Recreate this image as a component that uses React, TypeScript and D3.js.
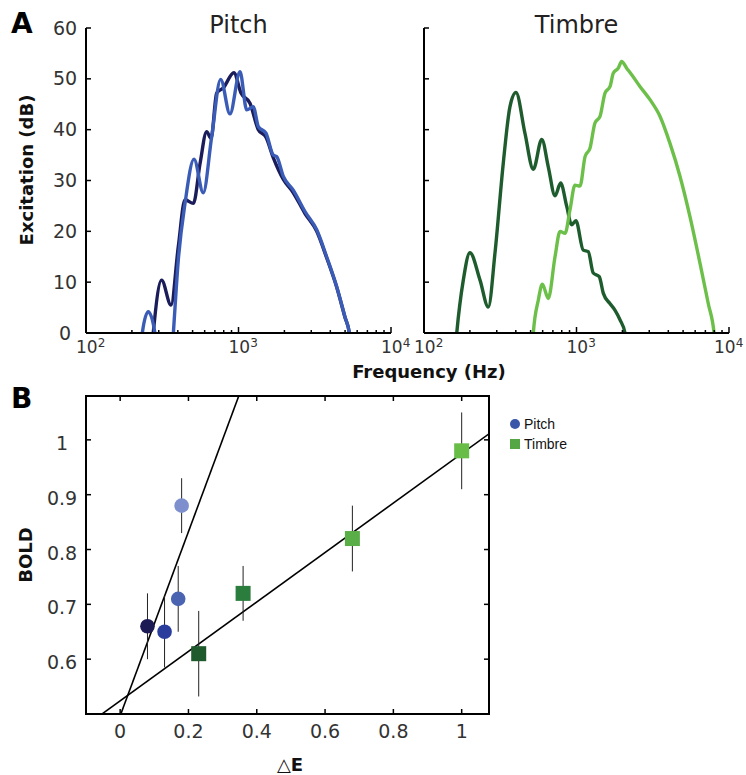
import React from "react";
import * as d3 from "d3";

// ---------- Data ----------
// Excitation patterns: [frequency Hz, excitation dB]
const pitchLow: [number, number][] = [
  [262, -8], [276, 0], [313, 10.4], [361, 5.5], [403, 17], [446, 26.2], [506, 25.5],
  [560, 33.4], [618, 39.6], [661, 38.3], [719, 47.2], [794, 48.2], [933, 51.2],
  [1038, 47.2], [1189, 45.2], [1349, 40.0], [1514, 38.5], [1690, 34.5], [1968, 30.2],
  [2286, 27.6], [2729, 23.5], [3258, 20], [3784, 14.8], [4406, 9], [4989, 3.1], [5333, 0], [5600, -6],
];
const pitchHigh: [number, number][] = [
  [222, -8], [234, 0], [256, 4.2], [283, 0], [300, -10], [355, -10], [374, 0],
  [403, 14.4], [446, 25.5], [511, 34.2], [587, 27.6], [667, 38.6], [764, 49.9],
  [879, 43.1], [1023, 51.4], [1132, 43.9], [1250, 44.5], [1349, 40.6], [1514, 39.3],
  [1690, 35], [1778, 34.7], [1968, 30.8], [2286, 28.1], [2729, 23.9], [3258, 20.3],
  [3784, 15], [4406, 9.1], [4989, 3.2], [5333, 0], [5600, -6],
];
const timbreLow: [number, number][] = [
  [156, -8], [164, 0], [181, 10.4], [200, 15.8], [233, 10.4], [264, 5.1], [292, 15.7],
  [331, 33.4], [366, 44.5], [401, 47.3], [459, 39.3], [521, 32.2], [592, 38.1],
  [653, 32.7], [723, 27], [787, 29.5], [863, 24.9], [929, 21.3], [991, 22.1],
  [1107, 16.3], [1194, 16], [1288, 11.8], [1409, 11.1], [1500, 7.8], [1656, 5.8],
  [1786, 4.5], [1928, 2.6], [2080, 0], [2200, -6],
];
const timbreHigh: [number, number][] = [
  [505, -8], [521, 0], [562, 6.5], [597, 9.6], [653, 6.8], [723, 15], [780, 20],
  [841, 19.6], [906, 24.2], [977, 29.1], [1054, 28.9], [1138, 34.7], [1227, 36.4],
  [1321, 41.3], [1426, 42.6], [1538, 47.2], [1660, 48.5], [1742, 51.1], [1879, 52.1],
  [1977, 53.4], [2133, 52.1], [2301, 50.8], [2606, 48.5], [3034, 45.9], [3532, 42.6],
  [4102, 37.3], [4775, 30.8], [5546, 22.9], [6457, 13.7], [7311, 5.8], [7980, 0], [8300, -6],
];

const dbTicks = [0, 10, 20, 30, 40, 50, 60];
const decadeTicks = [100, 1000, 10000];
const decadeExp = ["2", "3", "4"];

// Panel B
const pitchDE = [0.08, 0.13, 0.17, 0.18];
const pitchBOLD = [0.66, 0.65, 0.71, 0.88];
const pitchErr = [0.06, 0.065, 0.06, 0.05];
const pitchColors = ["#1b1a55", "#2a3d9c", "#4a64b2", "#7d8fcc"];

const timbreDE = [0.23, 0.36, 0.68, 1.0];
const timbreBOLD = [0.61, 0.72, 0.82, 0.98];
const timbreErr = [0.078, 0.05, 0.06, 0.07];
const timbreColors = ["#1f5a2d", "#2b7d3d", "#5aae47", "#67bd45"];

// regression fits [intercept, slope]
const pitchFit = [0.4966, 1.68];
const timbreFit = [0.524, 0.451];

const bXTicks = [0, 0.2, 0.4, 0.6, 0.8, 1];
const bXTickLabels = ["0", "0.2", "0.4", "0.6", "0.8", "1"];
const bYTicks = [0.6, 0.7, 0.8, 0.9, 1];
const bYTickLabels = ["0.6", "0.7", "0.8", "0.9", "1"];

const FONT = "'DejaVu Sans', sans-serif";

function minorTicks(): number[] {
  const out: number[] = [];
  for (const d of [100, 1000]) for (let k = 2; k <= 9; k++) out.push(k * d);
  return out;
}

function ExcitationPanel(props: {
  x0: number; x1: number; title: string; showYLabels: boolean;
  series: { data: [number, number][]; color: string }[]; id: string;
}) {
  const { x0, x1, title, showYLabels, series, id } = props;
  const x = d3.scaleLog().domain([100, 10000]).range([x0, x1]);
  const y = d3.scaleLinear().domain([0, 60]).range([333, 28]);
  const line = d3.line<[number, number]>()
    .x((d) => x(d[0]))
    .y((d) => y(d[1]))
    .curve(d3.curveMonotoneX);
  return (
    <g>
      <defs>
        <clipPath id={id}>
          <rect x={x0} y={0} width={x1 - x0 + 10} height={y(0) - 0} />
        </clipPath>
      </defs>
      <text x={(x0 + x1) / 2} y={33} textAnchor="middle" fontFamily={FONT} fontSize={24} fill="#222">{title}</text>
      <g clipPath={`url(#${id})`}>
        {series.map((s, i) => (
          <path key={i} d={line(s.data) || ""} fill="none" stroke={s.color} strokeWidth={3.4} strokeLinejoin="round" />
        ))}
      </g>
      {/* axes */}
      <line x1={x0} x2={x0} y1={y(60)} y2={y(0)} stroke="#000" strokeWidth={2} />
      <line x1={x0} x2={x1} y1={y(0)} y2={y(0)} stroke="#000" strokeWidth={2} />
      {dbTicks.map((t) => (
        <g key={t}>
          <line x1={x0} x2={x0 + 5} y1={y(t)} y2={y(t)} stroke="#000" strokeWidth={1.5} />
          {showYLabels && (
            <text x={65} y={y(t) + 6.5} textAnchor="middle" fontFamily={FONT} fontSize={19} fill="#333">{t}</text>
          )}
        </g>
      ))}
      {minorTicks().map((t) => (
        <line key={t} x1={x(t)} x2={x(t)} y1={y(0)} y2={y(0) - 3} stroke="#000" strokeWidth={1.5} />
      ))}
      {decadeTicks.map((t, i) => (
        <g key={t}>
          <line x1={x(t)} x2={x(t)} y1={y(0)} y2={y(0) - 6} stroke="#000" strokeWidth={1.5} />
          <text x={Math.min(x(t) - 10, 714)} y={353} fontFamily={FONT} fontSize={17} fill="#333">
            10<tspan dy={-6} fontSize={12}>{decadeExp[i]}</tspan>
          </text>
        </g>
      ))}
    </g>
  );
}

function PanelB() {
  const x = d3.scaleLinear().domain([-0.1, 1.08]).range([86, 489]);
  const y = d3.scaleLinear().domain([0.5, 1.08]).range([714, 396]);
  const fitPath = (f: number[]) => {
    const xs = [-0.1, 1.08];
    return d3.line<number>().x((v) => x(v)).y((v) => y(f[0] + f[1] * v))(xs) || "";
  };
  const sq = 15;
  return (
    <g>
      <defs>
        <clipPath id="boxclip">
          <rect x={86} y={396} width={403} height={318} />
        </clipPath>
      </defs>
      <g clipPath="url(#boxclip)">
        <path d={fitPath(pitchFit)} stroke="#000" strokeWidth={1.6} fill="none" />
        <path d={fitPath(timbreFit)} stroke="#000" strokeWidth={1.6} fill="none" />
      </g>
      {/* error bars */}
      {pitchDE.map((v, i) => (
        <line key={"pe" + i} x1={x(v)} x2={x(v)} y1={y(pitchBOLD[i] - pitchErr[i])} y2={y(pitchBOLD[i] + pitchErr[i])} stroke="#222" strokeWidth={1} />
      ))}
      {timbreDE.map((v, i) => (
        <line key={"te" + i} x1={x(v)} x2={x(v)} y1={y(timbreBOLD[i] - timbreErr[i])} y2={y(timbreBOLD[i] + timbreErr[i])} stroke="#222" strokeWidth={1} />
      ))}
      {pitchDE.map((v, i) => (
        <circle key={"pc" + i} cx={x(v)} cy={y(pitchBOLD[i])} r={7.3} fill={pitchColors[i]} />
      ))}
      {timbreDE.map((v, i) => (
        <rect key={"ts" + i} x={x(v) - sq / 2} y={y(timbreBOLD[i]) - sq / 2} width={sq} height={sq} fill={timbreColors[i]} />
      ))}
      {/* box */}
      <rect x={86} y={396} width={403} height={318} fill="none" stroke="#000" strokeWidth={2} />
      {bXTicks.map((t, i) => (
        <g key={"bx" + t}>
          <line x1={x(t)} x2={x(t)} y1={714} y2={709} stroke="#000" strokeWidth={1.5} />
          <line x1={x(t)} x2={x(t)} y1={396} y2={401} stroke="#000" strokeWidth={1.5} />
          <text x={x(t)} y={738} textAnchor="middle" fontFamily={FONT} fontSize={19} fill="#333">{bXTickLabels[i]}</text>
        </g>
      ))}
      {bYTicks.map((t, i) => (
        <g key={"by" + t}>
          <line x1={86} x2={91} y1={y(t)} y2={y(t)} stroke="#000" strokeWidth={1.5} />
          <line x1={489} x2={484} y1={y(t)} y2={y(t)} stroke="#000" strokeWidth={1.5} />
          <text x={62} y={y(t) + 10} textAnchor="middle" fontFamily={FONT} fontSize={19} fill="#333">{bYTickLabels[i]}</text>
        </g>
      ))}
      <text x={290} y={771} textAnchor="middle" fontFamily={FONT} fontSize={18} fontWeight="bold" fill="#111">△E</text>
      <text transform="translate(32,555) rotate(-90)" textAnchor="middle" fontFamily={FONT} fontSize={18} fontWeight="bold" fill="#111">BOLD</text>
      {/* legend */}
      <circle cx={515} cy={424} r={5} fill="#3a56a8" />
      <text x={524} y={429} fontFamily="'Liberation Sans', Arial, sans-serif" fontSize={14} fill="#111">Pitch</text>
      <rect x={510} y={439} width={10} height={10} fill="#57a645" />
      <text x={524} y={449} fontFamily="'Liberation Sans', Arial, sans-serif" fontSize={14} fill="#111">Timbre</text>
    </g>
  );
}

export default function App() {
  return (
    <svg width={746} height={775} style={{ position: "absolute", left: 0, top: 0, background: "#fff" }}>
      <rect width={746} height={775} fill="#fff" />
      <text x={11} y={33} fontFamily={FONT} fontSize={28} fontWeight="bold" fill="#000">A</text>
      <text x={11} y={408} fontFamily={FONT} fontSize={28} fontWeight="bold" fill="#000">B</text>
      <ExcitationPanel x0={86} x1={391} title="Pitch" showYLabels={true} id="clipL"
        series={[{ data: pitchLow, color: "#1b1c5a" }, { data: pitchHigh, color: "#3a5cb6" }]} />
      <ExcitationPanel x0={424} x1={729} title="Timbre" showYLabels={false} id="clipR"
        series={[{ data: timbreLow, color: "#1e5c2e" }, { data: timbreHigh, color: "#6cc04a" }]} />
      <text transform="translate(33,170) rotate(-90)" textAnchor="middle" fontFamily={FONT} fontSize={18} fontWeight="bold" fill="#111">Excitation (dB)</text>
      <text x={429} y={378} textAnchor="middle" fontFamily={FONT} fontSize={18} fontWeight="bold" fill="#111">Frequency (Hz)</text>
      <PanelB />
    </svg>
  );
}
